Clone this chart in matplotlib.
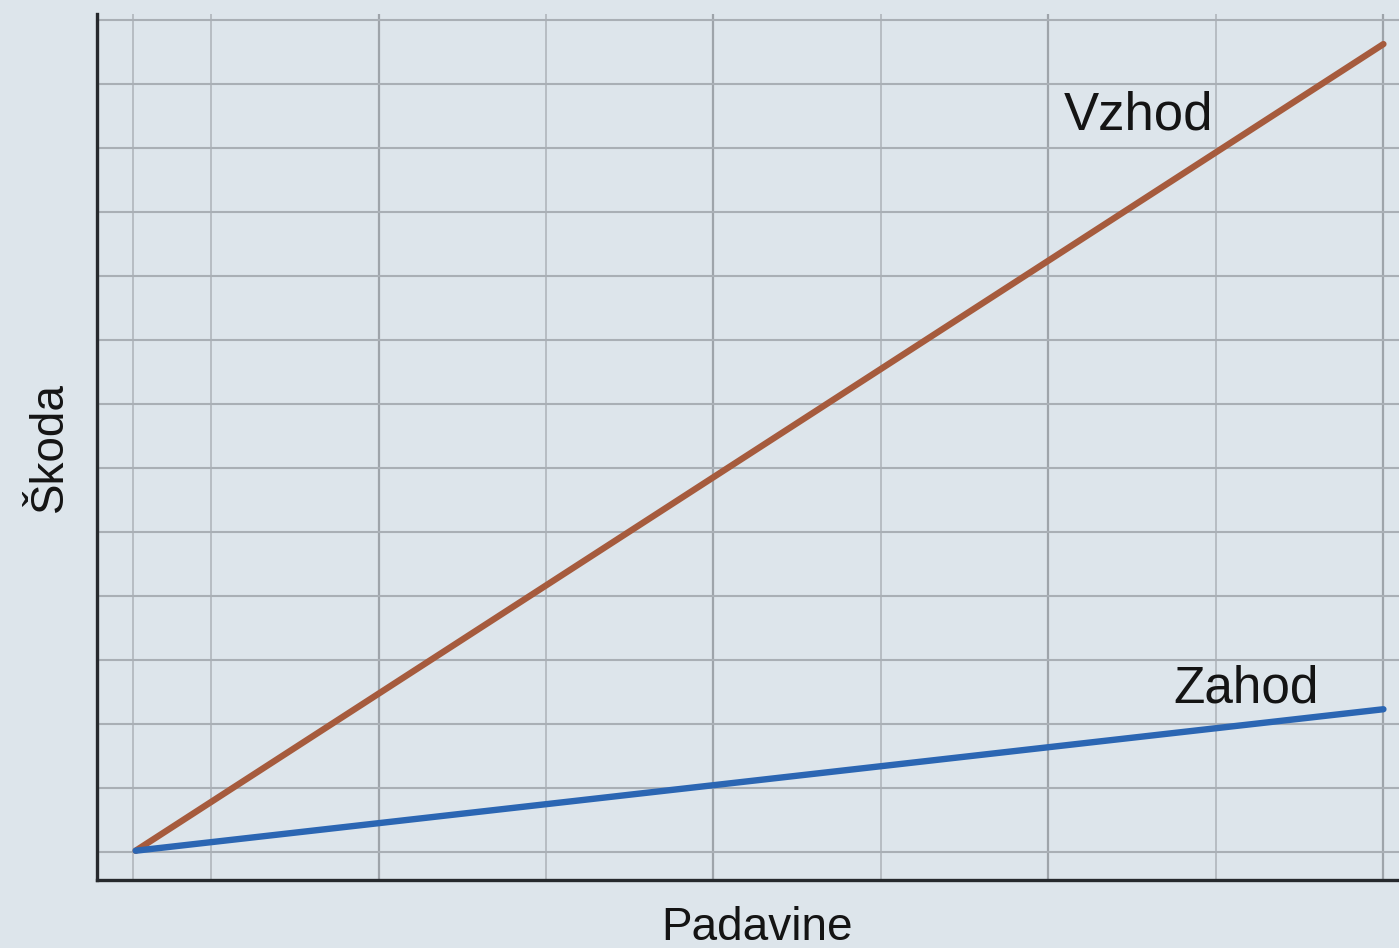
import matplotlib
matplotlib.use("Agg")
import matplotlib.pyplot as plt

# Data (schematic: rainfall vs damage)
padavine = [0.05, 7.5]
vzhod = [0.02, 12.62]
zahod = [0.02, 2.23]
series_labels = ["Vzhod", "Zahod"]
x_label = "Padavine"
y_label = "Škoda"

bg = "#dde5eb"
fig = plt.figure(figsize=(13.99, 9.48), dpi=100, facecolor=bg)
ax = fig.add_axes([97/1399, 68/948, 1302/1399, 866/948], facecolor=bg)

ax.set_xlim(-0.181, 7.593)
ax.set_ylim(-0.4375, 13.09)

# grid
major_x = [1.5, 3.5, 5.5, 7.5]
minor_x = [0.035, 0.5, 2.5, 4.5, 6.5]
ys = list(range(0, 14))
for xv in major_x:
    ax.axvline(xv, color="#9ea4aa", lw=1.6, zorder=1)
for xv in minor_x:
    ax.axvline(xv, color="#b3b9bf", lw=1.3, zorder=1)
for yv in ys:
    ax.axhline(yv, color="#a9afb5", lw=1.5, zorder=1)

ax.plot(padavine, vzhod, color="#a65b3d", lw=4.6, solid_capstyle="round", zorder=3)
ax.plot(padavine, zahod, color="#2b66b3", lw=4.6, solid_capstyle="round", zorder=3)

ax.text(6.04, 11.50, series_labels[0], fontsize=38, family="Liberation Sans",
        color="#141414", ha="center", va="center", zorder=4)
ax.text(6.68, 2.55, series_labels[1], fontsize=37, family="Liberation Sans",
        color="#141414", ha="center", va="center", zorder=4)

ax.set_xticks([])
ax.set_yticks([])
for s in ["top", "right"]:
    ax.spines[s].set_visible(False)
for s in ["left", "bottom"]:
    ax.spines[s].set_color("#26292d")
    ax.spines[s].set_linewidth(2.4)

fig.text(757/1399, 1 - 928/948, x_label, fontsize=33, family="Liberation Sans",
         color="#141414", ha="center", va="center")
fig.text(50/1399, 1 - 447/948, y_label, fontsize=33, family="Liberation Sans",
         color="#141414", ha="center", va="center", rotation=90)

fig.savefig("out.png", dpi=100, facecolor=bg)
